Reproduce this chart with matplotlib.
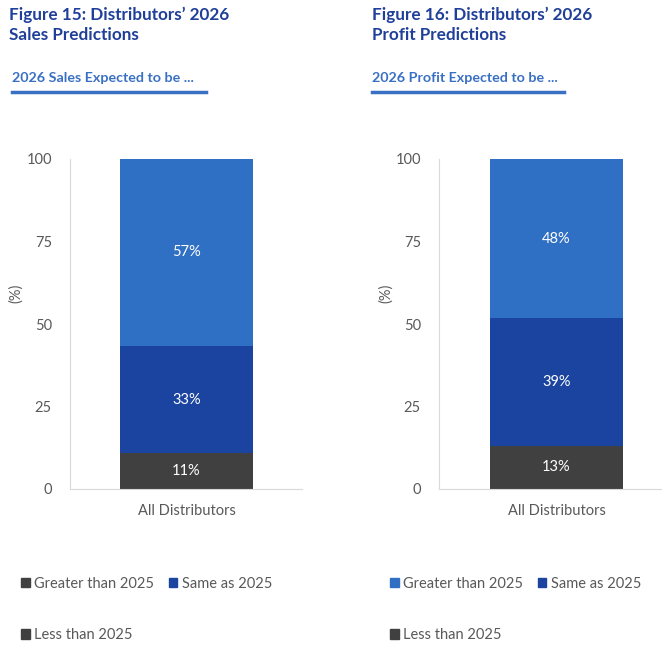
import matplotlib.pyplot as plt
from matplotlib.patches import Patch

# data
category = ['All Distributors']
series_names = ['Less than 2025', 'Same as 2025', 'Greater than 2025']
sales_values = [10.8, 32.6, 56.6]
profit_values = [13.1, 38.6, 48.3]
yticks = [0, 25, 50, 75, 100]

c_light = '#3070C4'
c_dark = '#1B44A0'
c_gray = '#404040'
c_title = '#1F3F99'
c_sub = '#3A70C4'
c_text = '#595959'

plt.rcParams['font.family'] = ['Lato', 'DejaVu Sans']

W, H = 662, 668
fig = plt.figure(figsize=(W / 100, H / 100), dpi=100)


def fx(px):
    return px / W


def fy(py):
    return 1 - py / H


def make_panel(x0, x1, bar_centre, values, title, subtitle, legend_colors,
               tx, sx, ux1, lx, ylab_x):
    ax = fig.add_axes([fx(x0), fy(489), fx(x1 - x0), 330 / H])
    unit = 133 / 0.573
    ax.set_xlim((x0 - bar_centre) / unit, (x1 - bar_centre) / unit)
    cols = [c_gray, c_dark, c_light]
    bottom = 0
    for v, c in zip(values, cols):
        ax.bar(0, v, width=0.573, bottom=bottom, color=c)
        ax.text(0, bottom + v / 2, f'{round(v)}%', ha='center', va='center',
                color='white', fontsize=10.5)
        bottom += v
    ax.set_ylim(0, 100)
    ax.set_yticks(yticks)
    ax.set_xticks([0])
    ax.set_xticklabels(category)
    ax.tick_params(length=0, colors=c_text, labelsize=10.5)
    ax.tick_params(axis='y', pad=13)
    ax.tick_params(axis='x', pad=11)
    for s in ['top', 'right']:
        ax.spines[s].set_visible(False)
    for s in ['left', 'bottom']:
        ax.spines[s].set_color('#D9D9D9')
    fig.text(fx(ylab_x), fy(293), '(%)', rotation=90, ha='center', va='center',
             color=c_text, fontsize=10.5)

    fig.text(fx(tx), fy(7), title, ha='left', va='top', color=c_title,
             fontsize=12.3, fontweight='bold', linespacing=1.32)
    fig.text(fx(sx), fy(78), subtitle, ha='left', va='center', color=c_sub,
             fontsize=10.3, fontweight='bold')
    fig.add_artist(plt.Line2D([fx(sx), fx(ux1)], [fy(91.5), fy(91.5)],
                              color=c_sub, lw=2.5))

    handles = [Patch(color=legend_colors[2], label=series_names[2]),
               Patch(color=legend_colors[0], label=series_names[0]),
               Patch(color=legend_colors[1], label=series_names[1])]
    fig.legend(handles=handles, ncol=2, loc='upper left',
               bbox_to_anchor=(fx(lx), fy(577)), frameon=False,
               fontsize=10.5, labelcolor=c_text, handlelength=0.6,
               handleheight=0.6, handletextpad=0.3, columnspacing=1.0,
               labelspacing=2.55, borderpad=0, borderaxespad=0)
    return ax


make_panel(70, 302, 186.5, sales_values,
           'Figure 15: Distributors\u2019 2026\nSales Predictions',
           '2026 Sales Expected to be ...', [c_gray, c_dark, c_gray],
           9, 12, 206, 21, 16)
make_panel(439, 662, 556.5, profit_values,
           'Figure 16: Distributors\u2019 2026\nProfit Predictions',
           '2026 Profit Expected to be ...', [c_gray, c_dark, c_light],
           372, 372, 564, 390, 386)

fig.savefig('out.png', dpi=100)
